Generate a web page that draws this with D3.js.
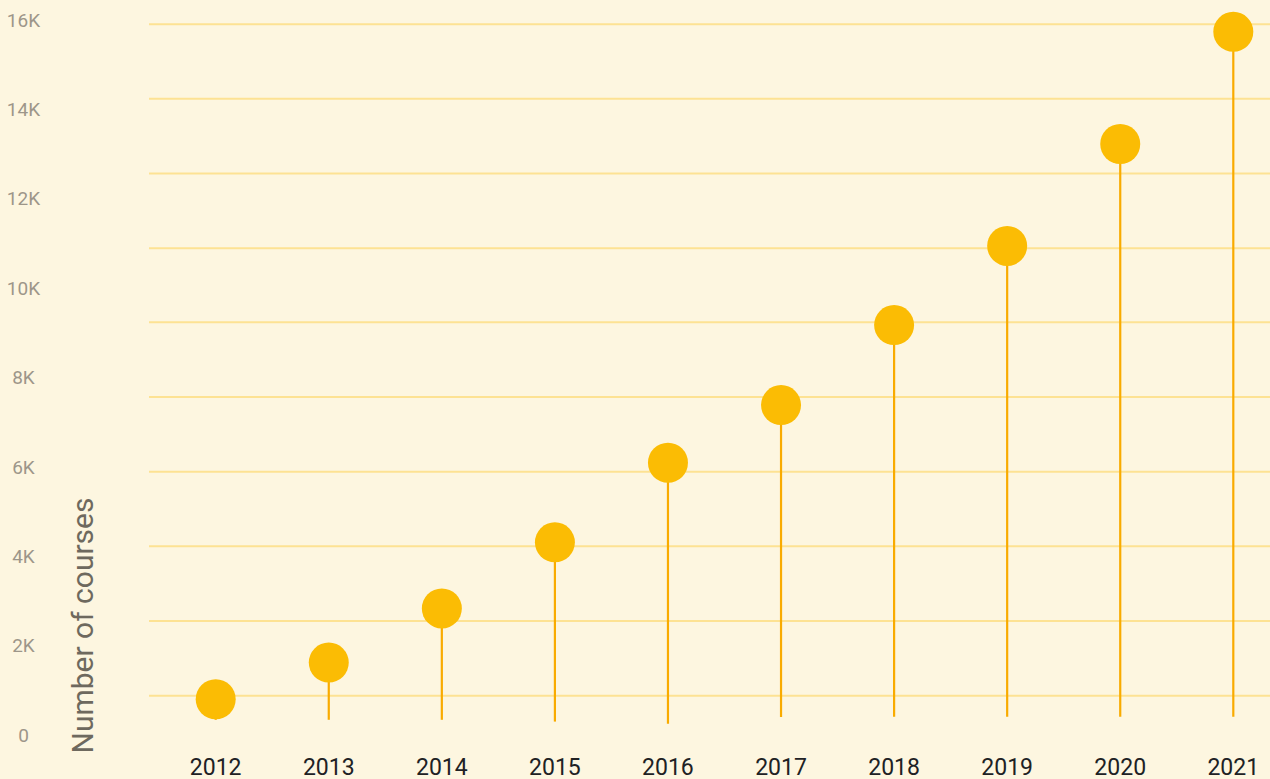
<!DOCTYPE html>
<html>
<head>
<meta charset="utf-8">
<script src="https://cdn.jsdelivr.net/npm/d3@7"></script>
<style>
  html, body { margin: 0; padding: 0; background: #fdf6e0; }
  svg { display: block; font-family: Roboto, "Noto Sans", sans-serif; }
</style>
</head>
<body>
<div id="chart"></div>
<script>
// lollipop chart: courses per year

const years = ['2012', '2013', '2014', '2015', '2016', '2017', '2018', '2019', '2020', '2021'];
const courses = [800, 1620, 2830, 4310, 6090, 7380, 9170, 10940, 13220, 15730];
// where each stem stops at the bottom (they are not all equal in the picture)
const stemBase = [340, 340, 340, 300, 250, 400, 410, 410, 410, 410];
const yTickValues = [0, 2000, 4000, 6000, 8000, 10000, 12000, 14000, 16000];
const yTickLabels = ['0', '2K', '4K', '6K', '8K', '10K', '12K', '14K', '16K'];
const gridValues = [880, 2550, 4220, 5890, 7560, 9230, 10890, 12560, 14230, 15900];

const width = 1270;
const height = 779;

const svg = d3.select('#chart')
  .append('svg')
    .attr('width', width)
    .attr('height', height);

svg.append('rect')
    .attr('width', width)
    .attr('height', height)
    .attr('fill', '#fdf6e0');

const xScale = d3.scalePoint()
    .domain(years)
    .range([215.7, 1233.3]);

const yScale = d3.scaleLinear()
    .domain([0, 16000])
    .range([735, 19.7]);

// grid
svg.append('g')
    .attr('id', 'grid')
  .selectAll('line')
  .data(gridValues)
  .join('line')
    .attr('x1', 149)
    .attr('x2', width)
    .attr('y1', d => yScale(d))
    .attr('y2', d => yScale(d))
    .attr('stroke', '#fde293')
    .attr('stroke-width', 2);

// y labels
svg.append('g')
    .attr('id', 'y-labels')
  .selectAll('text')
  .data(yTickValues)
  .join('text')
    .attr('x', 23.5)
    .attr('y', d => yScale(d) + 6.8)
    .attr('text-anchor', 'middle')
    .attr('font-size', 19)
    .attr('fill', '#9d968a')
    .text((d, i) => yTickLabels[i]);

// y title
svg.append('text')
    .attr('transform', 'translate(93,625.5) rotate(-90)')
    .attr('text-anchor', 'middle')
    .attr('font-size', 30)
    .attr('fill', '#6e695e')
    .text('Number of courses');

// x labels
svg.append('g')
    .attr('id', 'x-labels')
  .selectAll('text')
  .data(years)
  .join('text')
    .attr('x', d => xScale(d))
    .attr('y', 775)
    .attr('text-anchor', 'middle')
    .attr('font-size', 23)
    .attr('fill', '#202124')
    .text(d => d);

const points = years.map((y, i) => ({year: y, value: courses[i], base: stemBase[i]}));

const pops = svg.append('g')
    .attr('id', 'lollipops')
  .selectAll('g')
  .data(points)
  .join('g');

pops.append('line')
    .attr('x1', d => xScale(d.year))
    .attr('x2', d => xScale(d.year))
    .attr('y1', d => yScale(d.base))
    .attr('y2', d => yScale(d.value))
    .attr('stroke', '#f9ab00')
    .attr('stroke-width', 2.2);

pops.append('circle')
    .attr('cx', d => xScale(d.year))
    .attr('cy', d => yScale(d.value))
    .attr('r', 20)
    .attr('fill', '#fbbc04');
</script>
</body>
</html>
